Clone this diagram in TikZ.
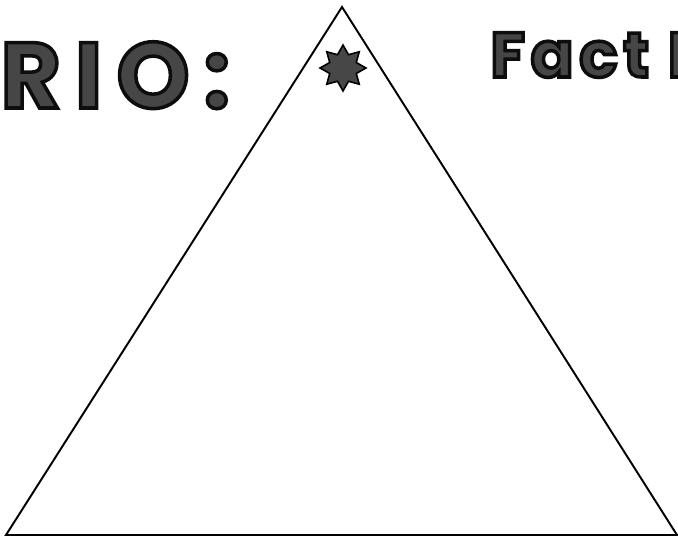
\documentclass[tikz,border=0pt]{standalone}
\usepackage{fontspec}
\newfontfamily\headfont{Poppins}[UprightFont=* Bold]
\usetikzlibrary{shapes.geometric}
% gray letters with a dark outline
\newcommand\inked[1]{\special{pdf:code q 2 Tr 2 w 0.05 G}#1\special{pdf:code Q}}
\tikzset{
  side/.style={draw, line width=1.1pt, line join=miter},
  title/.style={text=gray!55!black, inner sep=0pt, anchor=base west},
  mark8/.style={star, star points=8, star point ratio=1.6, minimum size=0.92cm, inner sep=0pt, draw, line width=0.9pt, fill=black!72}
}

\begin{document}
\begin{tikzpicture}[x=0.02cm, y=-0.02cm]
        \useasboundingbox (0,0) rectangle (678,537);
        % triangle corners
        \coordinate (apex) at (342,7);
        \coordinate (left) at (6,535);
        \coordinate (right) at (677,535);
        \draw[side] (left) -- (apex) -- (right) -- cycle;
        \node[mark8] (star) at (343,68) {};
        % headings, cut off at the page edges
        \node[title, font=\headfont\fontsize{53pt}{56pt}\selectfont\addfontfeature{LetterSpace=15}] (rio) at (0,108) {\inked{RIO:}};
        \node[title, font=\headfont\fontsize{36pt}{40pt}\selectfont\addfontfeature{LetterSpace=9}] (fact) at (490,77) {\inked{Fact F}};
      \end{tikzpicture}
\end{document}
